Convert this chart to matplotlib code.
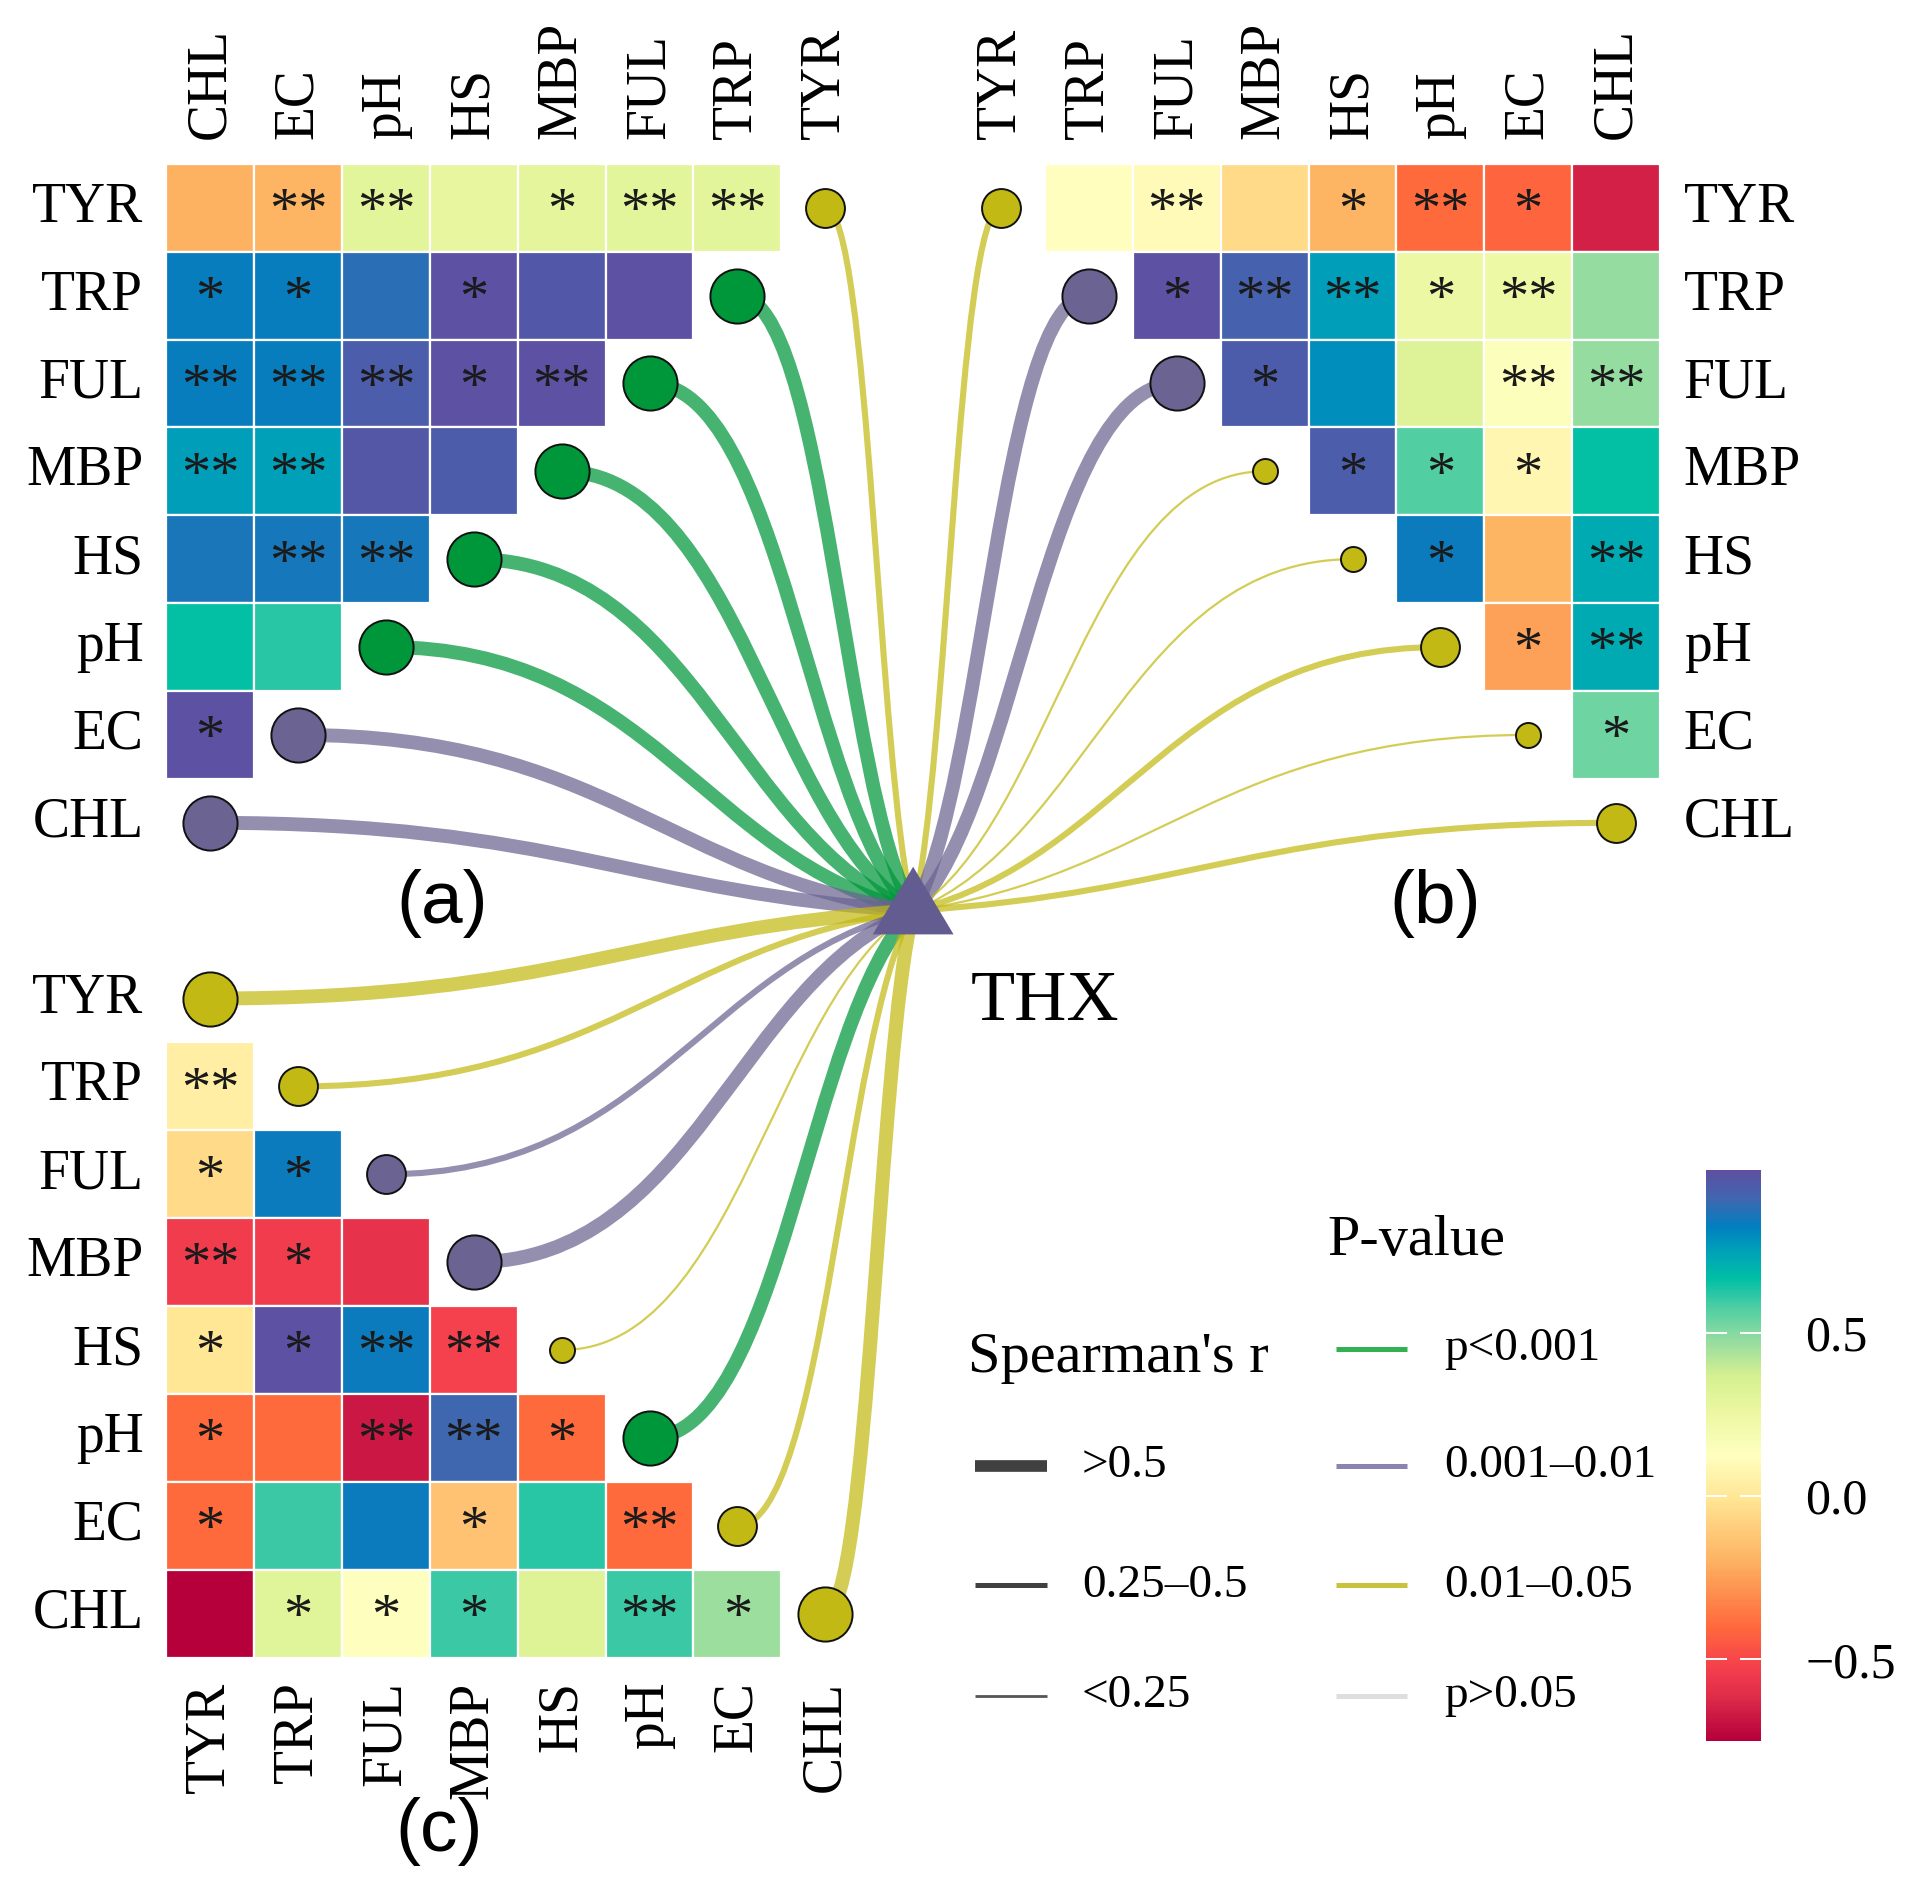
"""
plot.py

Three triangular Spearman heatmaps (a, b, c) of soil variables, each variable
linked to THX by a curve coloured by p-value and sized by |r|.
"""

import matplotlib
matplotlib.use("Agg")
import matplotlib.pyplot as plt
from matplotlib.colors import LinearSegmentedColormap, Normalize
from matplotlib.patches import Rectangle, Polygon, PathPatch
from matplotlib.path import Path
import matplotlib.cm as cm

# ── Data ──────────────────────────────────────────────────────────────────────
VARS = ["TYR", "TRP", "FUL", "MBP", "HS", "pH", "EC", "CHL"]
A_COLS = ["CHL", "EC", "pH", "HS", "MBP", "FUL", "TRP", "TYR"]

# panel (a): row i = VARS[i], cells left->right over A_COLS[0 .. 6-i]
A_R = [
    [-0.20, -0.19, 0.30, 0.27, 0.29, 0.30, 0.30],
    [0.83, 0.83, 0.88, 0.99, 0.96, 0.99],
    [0.83, 0.83, 0.94, 0.99, 0.99],
    [0.76, 0.75, 0.97, 0.95],
    [0.86, 0.85, 0.85],
    [0.66, 0.62],
    [0.99],
    [],
]
A_SIG = [
    ["", "**", "**", "", "*", "**", "**"],
    ["*", "*", "", "*", "", ""],
    ["**", "**", "**", "*", "**"],
    ["**", "**", "", ""],
    ["", "**", "**"],
    ["", ""],
    ["*"],
    [],
]

# panel (b): row i = VARS[i], cells over VARS[i+1 .. 7]
B_R = [
    [0.12, 0.10, -0.05, -0.19, -0.40, -0.41, -0.65],
    [0.99, 0.93, 0.76, 0.25, 0.24, 0.48],
    [0.95, 0.79, 0.32, 0.14, 0.48],
    [0.94, 0.57, 0.08, 0.66],
    [0.84, -0.19, 0.72],
    [-0.25, 0.72],
    [0.53],
    [],
]
B_SIG = [
    ["", "**", "", "*", "**", "*", ""],
    ["*", "**", "**", "*", "**", ""],
    ["*", "", "", "**", "**"],
    ["*", "*", "*", ""],
    ["*", "", "**"],
    ["*", "**"],
    ["*"],
    [],
]

# panel (c): row i = VARS[i], cells over VARS[0 .. i-1]
C_R = [
    [],
    [0.04],
    [-0.05, 0.84],
    [-0.54, -0.54, -0.58],
    [0.00, 0.99, 0.84, -0.52],
    [-0.40, -0.40, -0.68, 0.91, -0.40],
    [-0.40, 0.60, 0.84, -0.14, 0.62, -0.40],
    [-0.75, 0.31, 0.13, 0.60, 0.33, 0.60, 0.46],
]
C_SIG = [
    [],
    ["**"],
    ["*", "*"],
    ["**", "*", ""],
    ["*", "*", "**", "**"],
    ["*", "", "**", "**", "*"],
    ["*", "", "", "*", "", "**"],
    ["", "*", "*", "*", "", "**", "*"],
]

# links to THX, order = VARS
A_LINK_R = [0.38, 0.66, 0.64, 0.63, 0.65, 0.62, 0.56, 0.55]
A_LINK_P = [0.02, 0.0004, 0.0005, 0.0006, 0.0004, 0.0008, 0.004, 0.006]
B_LINK_R = [0.36, 0.56, 0.55, 0.21, 0.20, 0.42, 0.19, 0.37]
B_LINK_P = [0.03, 0.005, 0.006, 0.04, 0.045, 0.02, 0.04, 0.03]
C_LINK_R = [0.53, 0.35, 0.33, 0.55, 0.18, 0.58, 0.30, 0.52]
C_LINK_P = [0.02, 0.03, 0.008, 0.004, 0.04, 0.0006, 0.03, 0.02]

R_LABELS = [">0.5", "0.25\u20130.5", "<0.25"]
P_LABELS = ["p<0.001", "0.001\u20130.01", "0.01\u20130.05", "p>0.05"]
CB_TICKS = [-0.5, 0.0, 0.5]

# ── Style ─────────────────────────────────────────────────────────────────────
SERIF = ["Liberation Serif", "DejaVu Serif"]
SANS = ["Liberation Sans", "DejaVu Sans"]

CMAP = LinearSegmentedColormap.from_list("spectral_r", [
    (0.00, "#B5003C"), (0.08, "#E02E4A"), (0.13, "#F5404D"), (0.20, "#FF6A3C"),
    (0.31, "#FDB060"), (0.42, "#FFE492"), (0.50, "#FFFFC0"), (0.58, "#EAF7A0"),
    (0.64, "#D4F090"), (0.70, "#96DCA0"), (0.76, "#4ECDA3"), (0.81, "#00BFA5"),
    (0.86, "#00A0B8"), (0.90, "#0080C0"), (0.95, "#3F66B0"), (1.00, "#5E4FA2"),
])
NORM = Normalize(-0.75, 1.0)

P_COLS = ["#00963A", "#6B6391", "#C2B914", "#DDDDDD"]
LW = [5.0, 2.2, 0.8]
MS = [19.5, 14.0, 9.0]
HUB = (8.0, 8.0)


def p_class(p):
    if p < 0.001:
        return 0
    if p < 0.01:
        return 1
    if p < 0.05:
        return 2
    return 3


def r_class(r):
    r = abs(r)
    if r > 0.5:
        return 0
    if r >= 0.25:
        return 1
    return 2


fig = plt.figure(figsize=(9.635, 9.43), dpi=200)
ax = fig.add_axes([0, 0, 1, 1])
ax.set_xlim(-2.392, 19.538)
ax.set_ylim(19.10, -2.364)
ax.axis("off")


def cell(x, y, r, sig):
    ax.add_patch(Rectangle((x - 0.5, y - 0.5), 1, 1, facecolor=CMAP(NORM(r)),
                           edgecolor="white", lw=0.8, zorder=1))
    if sig:
        ax.text(x, y + 0.22, sig, ha="center", va="baseline", fontsize=21,
                family=SERIF, color="#1a1a1a", zorder=2)


def link(x0, y0, r, p):
    col = P_COLS[p_class(p)]
    k = r_class(r)
    dx, dy = HUB[0] - x0, HUB[1] - y0
    verts = [(x0, y0), (x0 + 0.5 * dx, y0),
             (HUB[0] - 0.4 * dx, HUB[1] - 0.2 * dy), HUB]
    path = Path(verts, [Path.MOVETO, Path.CURVE4, Path.CURVE4, Path.CURVE4])
    ax.add_patch(PathPatch(path, fill=False, edgecolor=col, lw=LW[k],
                           alpha=0.72, capstyle="butt", zorder=2))
    ax.plot(x0, y0, "o", ms=MS[k], mfc=col, mec="#111111", mew=0.7, zorder=3)


# ── Panel (a) ─────────────────────────────────────────────────────────────────
for i, row in enumerate(A_R):
    for j, r in enumerate(row):
        cell(j, i, r, A_SIG[i][j])
    link(7 - i, i, A_LINK_R[i], A_LINK_P[i])
    ax.text(-0.76, i, VARS[i], ha="right", va="center", fontsize=20, family=SERIF)
for j, name in enumerate(A_COLS):
    ax.text(j, -0.78, name, ha="center", va="bottom", rotation=90,
            fontsize=20, family=SERIF)

# ── Panel (b) ─────────────────────────────────────────────────────────────────
for i, row in enumerate(B_R):
    for j, r in enumerate(row):
        cell(9 + i + 1 + j, i, r, B_SIG[i][j])
    link(9 + i, i, B_LINK_R[i], B_LINK_P[i])
    ax.text(16.77, i, VARS[i], ha="left", va="center", fontsize=20, family=SERIF)
for j, name in enumerate(VARS):
    ax.text(9 + j, -0.78, name, ha="center", va="bottom", rotation=90,
            fontsize=20, family=SERIF)

# ── Panel (c) ─────────────────────────────────────────────────────────────────
for i, row in enumerate(C_R):
    for j, r in enumerate(row):
        cell(j, 9 + i, r, C_SIG[i][j])
    link(i, 9 + i, C_LINK_R[i], C_LINK_P[i])
    ax.text(-0.76, 9 + i, VARS[i], ha="right", va="center", fontsize=20, family=SERIF)
for j, name in enumerate(VARS):
    ax.text(j, 16.77, name, ha="center", va="top", rotation=90,
            fontsize=20, family=SERIF)

# hub
ax.add_patch(Polygon([(HUB[0], HUB[1] - 0.5), (HUB[0] - 0.46, HUB[1] + 0.27),
                      (HUB[0] + 0.46, HUB[1] + 0.27)], closed=True,
                     facecolor="#635C90", edgecolor="none", zorder=4))
ax.text(9.5, 9.05, "THX", ha="center", va="center", fontsize=26, family=SERIF)

ax.text(2.64, 7.92, "(a)", ha="center", va="center", fontsize=27, family=SANS)
ax.text(13.94, 7.92, "(b)", ha="center", va="center", fontsize=27, family=SANS)
ax.text(2.60, 18.48, "(c)", ha="center", va="center", fontsize=27, family=SANS)

# ── Legends ───────────────────────────────────────────────────────────────────
LEG_Y = [14.32, 15.68, 16.94]
ax.text(8.62, 13.09, "Spearman's r", ha="left", va="center", fontsize=21, family=SERIF)
for y, lab, lw, c in zip(LEG_Y, R_LABELS, [4.2, 1.8, 1.0], ["#404040", "#404040", "#555555"]):
    ax.plot([8.70, 9.52], [y, y], color=c, lw=lw, solid_capstyle="butt")
    ax.text(9.92, y, lab, ha="left", va="center", fontsize=17, family=SERIF)

ax.text(12.71, 11.76, "P-value", ha="left", va="center", fontsize=21, family=SERIF)
for y, lab, c in zip([12.99] + LEG_Y, P_LABELS, ["#33B050", "#8A84B0", "#C8C23C", "#DEDEDE"]):
    ax.plot([12.81, 13.62], [y, y], color=c, lw=1.8, solid_capstyle="butt")
    ax.text(14.04, y, lab, ha="left", va="center", fontsize=17, family=SERIF)

# ── Colour bar ────────────────────────────────────────────────────────────────
cax = fig.add_axes([0.8853, 0.0769, 0.0286, 0.303])
cb = fig.colorbar(cm.ScalarMappable(norm=NORM, cmap=CMAP), cax=cax)
cb.outline.set_visible(False)
cb.set_ticks(CB_TICKS)
cb.set_ticklabels(["\u22120.5", "0.0", "0.5"])
cax.tick_params(direction="in", length=7.5, width=0.7, color="white",
                left=True, right=True, labelsize=18, pad=16)
for t in cax.get_yticklabels():
    t.set_family(SERIF)

fig.savefig("out.png", dpi=200, facecolor="white")
